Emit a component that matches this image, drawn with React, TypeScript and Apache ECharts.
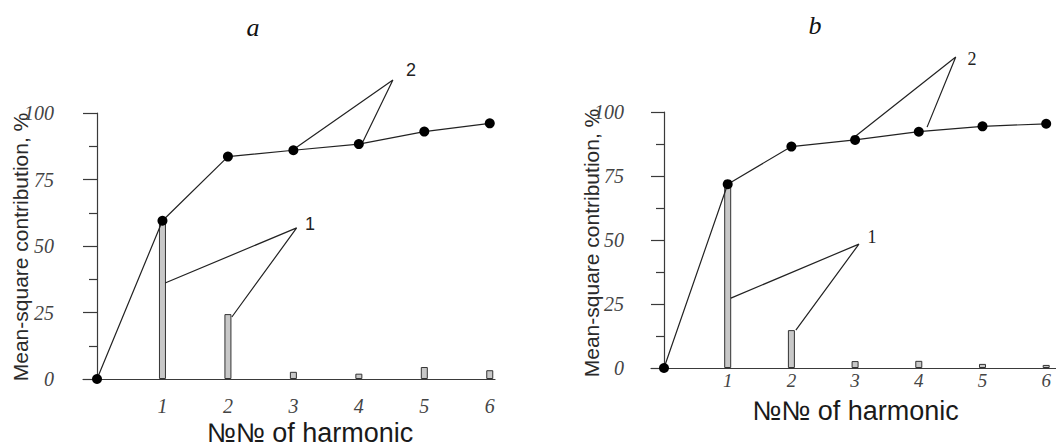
import React, { useEffect, useRef } from "react";
import * as echarts from "echarts";

const harmonics = [0, 1, 2, 3, 4, 5, 6];
const barHarmonics = [1, 2, 3, 4, 5, 6];
const xTickLabels = [1, 2, 3, 4, 5, 6];

const cumulativeA = [0, 59.5, 83.6, 86.0, 88.3, 93.0, 96.1];
const barsA = [58.8, 24.4, 2.7, 2.0, 4.5, 3.3];
const cumulativeB = [0, 71.8, 86.5, 89.1, 92.3, 94.4, 95.4];
const barsB = [70.8, 14.8, 2.7, 2.8, 1.6, 1.2];

// leader lines (data coordinates): end -> vertex -> end
const leader2A = [[3.0, 86.3], [4.52, 112.4], [4.06, 89.1]];
const leader1A = [[1.04, 36.1], [3.05, 56.8], [2.06, 23.3]];
const leader2B = [[3.01, 90.6], [4.58, 121.5], [4.13, 94.1]];
const leader1B = [[1.05, 27.3], [3.06, 48.4], [2.07, 14.8]];

const yName = "Mean-square contribution, %";
const xName = "№№ of harmonic";

const AXIS_COLOR = "#3a3a3a";
const serif = "Liberation Serif";
const sans = "Liberation Sans";

function xAxisCfg(gridIndex: number, min: number, max: number, margin: number, labelSize: number, nameGap: number, namePad: number) {
  return {
    gridIndex,
    type: "value",
    min,
    max,
    axisLine: { show: true, onZero: true, lineStyle: { color: AXIS_COLOR, width: 1.2 } },
    axisTick: { show: false },
    splitLine: { show: false },
    axisLabel: {
      customValues: xTickLabels,
      fontFamily: serif,
      fontStyle: "italic",
      fontSize: labelSize,
      lineHeight: labelSize,
      color: "#444",
      margin,
    },
    name: xName,
    nameLocation: "middle",
    nameGap,
    nameMoveOverlap: false,
    nameTextStyle: { fontFamily: sans, fontSize: 27, lineHeight: 27, color: "#1a1a1a", padding: [0, 0, 0, namePad] },
  };
}

function yAxisCfg(gridIndex: number, margin: number, tickLen: number) {
  return {
    gridIndex,
    type: "value",
    min: 0,
    max: 100,
    interval: 25,
    axisLine: { show: true, onZero: true, lineStyle: { color: AXIS_COLOR, width: 1.2 } },
    axisTick: { show: true, length: tickLen, lineStyle: { color: AXIS_COLOR, width: 1.2 } },
    minorTick: { show: true, splitNumber: 2, length: 8, lineStyle: { color: AXIS_COLOR, width: 1.2 } },
    splitLine: { show: false },
    minorSplitLine: { show: false },
    axisLabel: {
      fontFamily: serif,
      fontStyle: "italic",
      fontSize: 20,
      color: "#444",
      margin,
    },
  };
}

function panelSeries(idx: number, cum: number[], bars: number[], l1: number[][], l2: number[][]) {
  return [
    {
      type: "bar",
      xAxisIndex: idx,
      yAxisIndex: idx,
      data: barHarmonics.map((h, i) => [h, bars[i]]),
      barWidth: 7,
      itemStyle: { color: "#c8c8c8", borderColor: "#333", borderWidth: 1 },
      z: 2,
    },
    {
      type: "line",
      xAxisIndex: idx,
      yAxisIndex: idx,
      data: harmonics.map((h, i) => [h, cum[i]]),
      symbol: "circle",
      symbolSize: 10,
      lineStyle: { color: "#222", width: 1.2 },
      itemStyle: { color: "#000" },
      clip: false,
      z: 4,
    },
    {
      type: "line",
      xAxisIndex: idx,
      yAxisIndex: idx,
      data: l1,
      symbol: "none",
      lineStyle: { color: "#222", width: 1.2 },
      clip: false,
      z: 3,
    },
    {
      type: "line",
      xAxisIndex: idx,
      yAxisIndex: idx,
      data: l2,
      symbol: "none",
      lineStyle: { color: "#222", width: 1.2 },
      clip: false,
      z: 3,
    },
  ];
}

export default function App() {
  const ref = useRef<HTMLDivElement>(null);
  useEffect(() => {
    document.body.style.margin = "0";
    if (!ref.current) return;
    const chart = echarts.init(ref.current, null, { renderer: "svg" });
    chart.setOption({
      animation: false,
      backgroundColor: "#fff",
      grid: [
        { left: 83, top: 113, width: 412, height: 266, containLabel: false, outerBoundsMode: "none" },
        { left: 651, top: 112, width: 405, height: 256, containLabel: false, outerBoundsMode: "none" },
      ],
      xAxis: [
        xAxisCfg(0, -0.214, 6.08, 17, 20, 40, 42),
        xAxisCfg(1, -0.204, 6.154, 3, 19, 29, 4),
      ],
      yAxis: [yAxisCfg(0, 29, 14), yAxisCfg(1, 27, 13)],
      series: [
        ...panelSeries(0, cumulativeA, barsA, leader1A, leader2A),
        ...panelSeries(1, cumulativeB, barsB, leader1B, leader2B),
      ],
      graphic: [
        { type: "text", x: 20, y: 247, rotation: Math.PI / 2, style: { text: yName, font: `21px "${sans}"`, fill: "#2a2a2a", align: "center", verticalAlign: "middle" } },
        { type: "text", x: 591, y: 243, rotation: Math.PI / 2, style: { text: yName, font: `21px "${sans}"`, fill: "#2a2a2a", align: "center", verticalAlign: "middle" } },
        { type: "text", x: 253, y: 27, style: { text: "a", font: `italic 26px "${serif}"`, fill: "#111", align: "center", verticalAlign: "middle" } },
        { type: "text", x: 815, y: 25, style: { text: "b", font: `italic 26px "${serif}"`, fill: "#111", align: "center", verticalAlign: "middle" } },
        { type: "text", x: 411, y: 70, style: { text: "2", font: `18px "${sans}"`, fill: "#222", align: "center", verticalAlign: "middle" } },
        { type: "text", x: 310, y: 224, style: { text: "1", font: `18px "${sans}"`, fill: "#222", align: "center", verticalAlign: "middle" } },
        { type: "text", x: 972, y: 59, style: { text: "2", font: `18px "${serif}"`, fill: "#222", align: "center", verticalAlign: "middle" } },
        { type: "text", x: 872, y: 237, style: { text: "1", font: `18px "${serif}"`, fill: "#222", align: "center", verticalAlign: "middle" } },
      ],
    });
    return () => chart.dispose();
  }, []);
  return <div ref={ref} style={{ width: 1056, height: 448 }} />;
}
